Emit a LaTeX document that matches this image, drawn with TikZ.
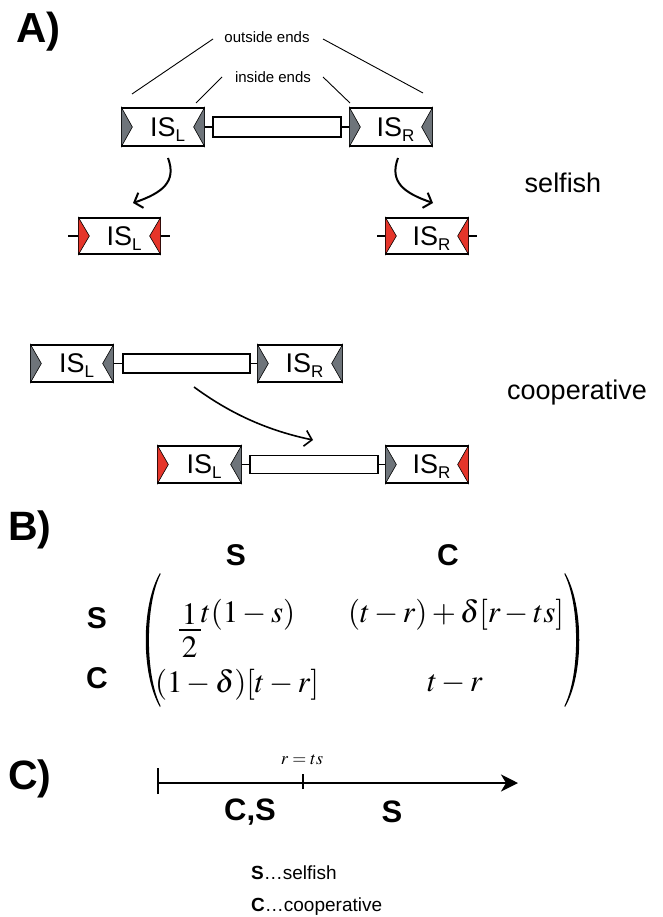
\documentclass[tikz,border=0pt]{standalone}
\usepackage{mathptmx}
\usepackage{fontspec}
\setmainfont{Liberation Sans}
\usetikzlibrary{arrows.meta,calc}

\definecolor{tngray}{HTML}{6E747A}
\definecolor{tnred}{HTML}{E5352A}

\newcommand\fs[1]{\fontsize{#1}{#1}\selectfont}
% IS element label with lowered index letter
\newcommand\isname[1]{\hspace*{9pt}IS\smash{\raisebox{-5pt}{\fs{17}#1}}}
% terminal inverted repeats drawn inside an IS box
\newcommand\tipleft[2]{\filldraw[fill=#2, draw=black, line width=0.6pt]
  (#1.north west) -- ([xshift=11pt]#1.west) -- (#1.south west) -- cycle;}
\newcommand\tipright[2]{\filldraw[fill=#2, draw=black, line width=0.6pt]
  (#1.north east) -- ([xshift=-11pt]#1.east) -- (#1.south east) -- cycle;}

\tikzset{
  isbox/.style={draw, line width=1.3pt, fill=white, minimum width=82pt,
    minimum height=38pt, inner sep=0pt, font=\fs{27}},
  insertbox/.style={draw, line width=1.1pt, fill=white, minimum width=128pt,
    minimum height=20pt, inner sep=0pt},
  stub/.style={line width=1.1pt},
  endlabel/.style={inner sep=0pt, font=\fs{15}},
  endline/.style={line width=0.9pt},
  movearrow/.style={line width=2pt, -{Straight Barb[length=7pt,width=16pt]}},
  modelabel/.style={inner sep=0pt, font=\fs{27}},
  panel/.style={inner sep=0pt, anchor=base west, font=\fs{42}\bfseries},
  strat/.style={inner sep=0pt, font=\fs{30}\bfseries},
  entry/.style={inner sep=0pt, font=\fs{31}},
}

\begin{document}
\begin{tikzpicture}[x=1pt, y=-1pt]
\fill[white] (0,0) rectangle (663,917);
\useasboundingbox (0,0) rectangle (663,917);

% ---------------- A) ----------------
\node[panel] (pa) at (16,43) {A)};

% transposon with two IS elements
\node[isbox] (tL) at (163,127) {\isname{L}};
\node[insertbox] (tI) at (277,127) {};
\node[isbox] (tR) at (391,127) {\isname{R}};
\tipleft{tL}{tngray}\tipright{tL}{tngray}
\tipleft{tR}{tngray}\tipright{tR}{tngray}
\draw[stub] (tL.east) -- (tI.west);
\draw[stub] (tI.east) -- (tR.west);

% end annotations
\node[endlabel] (oe) at (267,37) {outside ends};
\node[endlabel] (ie) at (273,77) {inside ends};
\coordinate (oeL1) at (213,39); \coordinate (oeL2) at (132,94);
\coordinate (oeR1) at (323,39); \coordinate (oeR2) at (423,93);
\coordinate (ieL1) at (222,77); \coordinate (ieL2) at (196,103);
\coordinate (ieR1) at (323,77); \coordinate (ieR2) at (350,103);
\draw[endline] (oeL1) -- (oeL2);
\draw[endline] (oeR1) -- (oeR2);
\draw[endline] (ieL1) -- (ieL2);
\draw[endline] (ieR1) -- (ieR2);

% selfish transposition
\node[modelabel] (self) at (563,183) {selfish};
\coordinate (sa1) at (168,158); \coordinate (sa2) at (133,203);
\coordinate (sb1) at (398,158); \coordinate (sb2) at (433,203);
\draw[movearrow] (sa1) .. controls (177,182) and (162,193) .. (sa2);
\draw[movearrow] (sb1) .. controls (389,182) and (404,193) .. (sb2);

\node[isbox, minimum width=81pt, minimum height=36pt] (sL) at (119.5,236) {\isname{L}};
\node[isbox, minimum height=36pt] (sR) at (427,236) {\isname{R}};
\tipleft{sL}{tnred}\tipright{sL}{tnred}
\tipleft{sR}{tnred}\tipright{sR}{tnred}
\coordinate (sLa) at (68,236); \coordinate (sLb) at (170,236);
\coordinate (sRa) at (377,236); \coordinate (sRb) at (477,236);
\draw[stub] (sLa) -- (sL.west);
\draw[stub] (sL.east) -- (sLb);
\draw[stub] (sRa) -- (sR.west);
\draw[stub] (sR.east) -- (sRb);

% cooperative transposition
\node[modelabel] (coop) at (577,393) {cooperative};
\node[isbox, minimum height=37pt] (cL) at (72,363.5) {\isname{L}};
\node[insertbox, minimum width=127pt, minimum height=19pt] (cI) at (186.5,363.5) {};
\node[isbox, minimum width=84pt, minimum height=37pt] (cR) at (300,363.5) {\isname{R}};
\tipleft{cL}{tngray}\tipright{cL}{tngray}
\tipleft{cR}{tngray}\tipright{cR}{tngray}
\draw[stub] (cL.east) -- (cI.west);
\draw[stub] (cI.east) -- (cR.west);

\coordinate (ca1) at (194,387); \coordinate (ca2) at (313,440);
\draw[movearrow, line width=1.6pt] (ca1) .. controls (228,412) and (265,430) .. (ca2);

\node[isbox, minimum width=83pt, minimum height=37pt] (dL) at (199.5,464.5) {\isname{L}};
\node[insertbox, minimum height=18pt] (dI) at (314,464.5) {};
\node[isbox, minimum height=37pt] (dR) at (427,464.5) {\isname{R}};
\tipleft{dL}{tnred}\tipright{dL}{tngray}
\tipleft{dR}{tngray}\tipright{dR}{tnred}
\draw[stub] (dL.east) -- (dI.west);
\draw[stub] (dI.east) -- (dR.west);

% ---------------- B) ----------------
\node[panel, font=\fs{41}\bfseries] (pb) at (8,540) {B)};
\node[strat] (hS) at (236,555) {S};
\node[strat] (hC) at (448,555) {C};
\node[strat] (rS) at (97,618) {S};
\node[strat] (rC) at (97,678) {C};

% payoff matrix brackets
\fill (160,573) .. controls (141,605) and (141,675) .. (160,707)
  -- (160.6,706) .. controls (145,675) and (145,605) .. (160.6,574) -- cycle;
\fill (565,573) .. controls (584,605) and (584,675) .. (565,707)
  -- (564.4,706) .. controls (580,675) and (580,605) .. (564.4,574) -- cycle;

% payoff entries
\node[entry] (fn) at (189.5,614.5) {$1$};
\node[entry] (fd) at (189.5,647) {$2$};
\draw[line width=1.1pt] (179,630) coordinate (fbl) -- (201,630) coordinate (fbr);
\node[entry] (e11) at (248,614.5) {$t(1-s)$};
\node[entry] (e12) at (456,614.5) {$(t-r)+\delta[r-ts]$};
\node[entry] (e21) at (237,684.5) {$(1-\delta)[t-r]$};
\node[entry] (e22) at (455,684) {$t-r$};

% ---------------- C) ----------------
\node[panel, font=\fs{41}\bfseries] (pc) at (8,789) {C)};
\coordinate (ax0) at (158,783);
\coordinate (axm) at (303,783);
\coordinate (ax1) at (518,783);
\draw[line width=2pt, -{Stealth[length=17pt,width=17pt,inset=5pt]}] (ax0) -- (ax1);
\draw[line width=1.3pt] ([yshift=-11pt]ax0) -- ([yshift=15pt]ax0);
\draw[line width=1.3pt] ([yshift=-6pt]axm) -- ([yshift=9pt]axm);
\node[entry, font=\fs{18}] (thr) at (302,760) {$r=ts$};
\node[strat, font=\fs{31}\bfseries] (cs) at (250,812) {C,S};
\node[strat, font=\fs{31}\bfseries] (so) at (392,812) {S};

% legend
\node[inner sep=0pt, anchor=base west, font=\fs{19}] (lgS) at (251,879) {\textbf{S}…selfish};
\node[inner sep=0pt, anchor=base west, font=\fs{19}] (lgC) at (251,911) {\textbf{C}…cooperative};
\end{tikzpicture}
\end{document}
